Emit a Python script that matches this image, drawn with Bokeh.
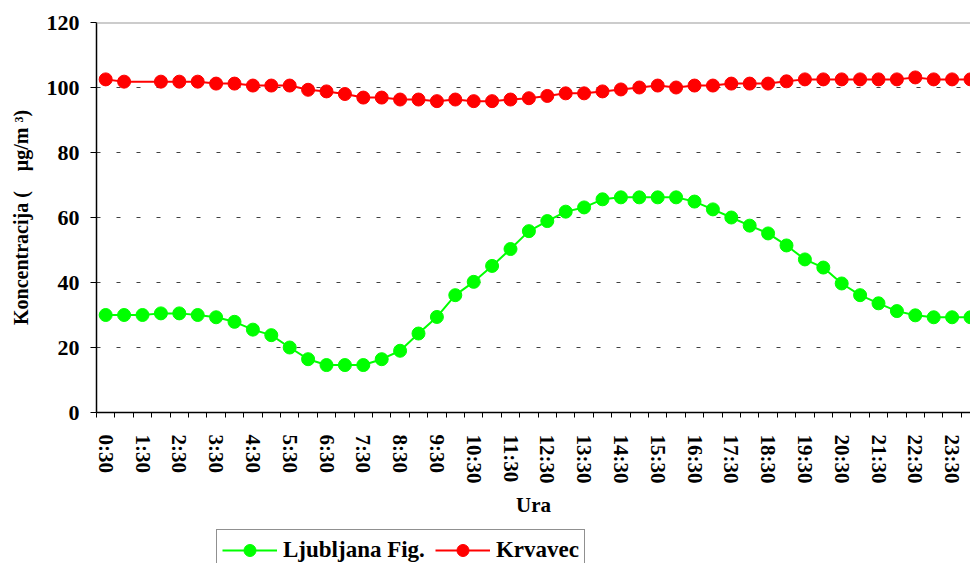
from bokeh.plotting import figure
from bokeh.layouts import column
from bokeh.models import Range1d, FixedTicker, Legend, LegendItem, Span
from bokeh.embed import file_html
from bokeh.resources import INLINE

# ---------------- data ----------------
categories = ["0:30", "1:00", "1:30", "2:00", "2:30", "3:00", "3:30", "4:00",
              "4:30", "5:00", "5:30", "6:00", "6:30", "7:00", "7:30", "8:00",
              "8:30", "9:00", "9:30", "10:00", "10:30", "11:00", "11:30", "12:00",
              "12:30", "13:00", "13:30", "14:00", "14:30", "15:00", "15:30", "16:00",
              "16:30", "17:00", "17:30", "18:00", "18:30", "19:00", "19:30", "20:00",
              "20:30", "21:00", "21:30", "22:00", "22:30", "23:00", "23:30", "24:00"]

tick_labels = ["0:30", "1:30", "2:30", "3:30", "4:30", "5:30", "6:30", "7:30",
               "8:30", "9:30", "10:30", "11:30", "12:30", "13:30", "14:30", "15:30",
               "16:30", "17:30", "18:30", "19:30", "20:30", "21:30", "22:30", "23:30"]

ljubljana = [30.0, 30.0, 30.0, 30.5, 30.5, 30.0, 29.3, 27.9, 25.5, 23.8,
             20.0, 16.4, 14.6, 14.6, 14.6, 16.4, 19.0, 24.3, 29.4, 36.1,
             40.2, 45.1, 50.3, 55.8, 58.9, 61.8, 63.1, 65.6, 66.2, 66.2,
             66.2, 66.2, 64.9, 62.5, 60.0, 57.5, 55.1, 51.4, 47.1, 44.6,
             39.7, 36.1, 33.6, 31.2, 29.9, 29.3, 29.3, 29.3]

krvavec = [102.5, 101.8, None, 101.8, 101.8, 101.8, 101.2, 101.2, 100.6, 100.6,
           100.6, 99.3, 98.8, 98.0, 96.9, 96.9, 96.3, 96.3, 95.8, 96.3,
           95.8, 95.8, 96.3, 96.7, 97.4, 98.2, 98.2, 98.8, 99.4, 100.0,
           100.6, 100.0, 100.6, 100.6, 101.2, 101.2, 101.2, 101.9, 102.5, 102.5,
           102.5, 102.5, 102.5, 102.5, 103.1, 102.5, 102.5, 102.5]

y_ticks = [0, 20, 40, 60, 80, 100, 120]
grid_ticks = [20, 40, 60, 80, 100]

series_names = ["Ljubljana Fig.", "Krvavec"]
series_colors = ["#00FF00", "#FF0000"]

# ---------------- derived ----------------
lj_x = [i for i, v in enumerate(ljubljana) if v is not None]
lj_y = [v for v in ljubljana if v is not None]
kr_x = [i for i, v in enumerate(krvavec) if v is not None]
kr_y = [v for v in krvavec if v is not None]

tick_pos = [categories.index(t) for t in tick_labels]
boundaries = [i - 0.5 for i in range(len(categories) + 1)]

FONT = "Liberation Serif"
W = 970
H_MAIN = 520
H_LEG = 43


def add_series(fig):
    gl = fig.line(lj_x, lj_y, line_color=series_colors[0], line_width=2)
    gs = fig.scatter(lj_x, lj_y, size=13, fill_color=series_colors[0], line_color=series_colors[0])
    rl = fig.line(kr_x, kr_y, line_color=series_colors[1], line_width=2)
    rs = fig.scatter(kr_x, kr_y, size=13, fill_color=series_colors[1], line_color=series_colors[1])
    return gl, gs, rl, rs


x_rng = (-0.5, len(categories) - 1.0)

p = figure(width=W, height=H_MAIN, output_backend="svg", toolbar_location=None,
           x_range=Range1d(*x_rng), y_range=Range1d(y_ticks[0], y_ticks[-1]),
           min_border_left=96, min_border_right=0, min_border_top=22, min_border_bottom=106)
p.outline_line_color = None
p.background_fill_color = "white"
p.border_fill_color = "white"

# grid
p.xgrid.visible = False
p.ygrid.ticker = FixedTicker(ticks=grid_ticks)
p.ygrid.grid_line_color = "#404040"
p.ygrid.grid_line_dash = "4 16"
p.ygrid.grid_line_width = 1
p.add_layout(Span(location=y_ticks[-1], dimension="width", line_color="#999999", line_width=2))

add_series(p)

# x axis
xa = p.xaxis[0]
xa.ticker = FixedTicker(ticks=tick_pos, minor_ticks=boundaries)
xa.major_label_overrides = {pos: lab for pos, lab in zip(tick_pos, tick_labels)}
xa.major_label_orientation = "vertical"
xa.major_tick_line_color = None
xa.major_tick_out = 5
xa.major_tick_in = 0
xa.minor_tick_out = 5
xa.minor_tick_in = 0
xa.minor_tick_line_color = "black"
xa.minor_tick_line_width = 1
xa.axis_line_color = "black"
xa.axis_line_width = 1.5
xa.major_label_standoff = 17
xa.major_label_text_font = FONT
xa.major_label_text_font_style = "bold"
xa.major_label_text_font_size = "21px"
xa.major_label_text_color = "black"
xa.axis_label = "Ura"
xa.axis_label_text_font = FONT
xa.axis_label_text_font_style = "bold"
xa.axis_label_text_font_size = "21px"
xa.axis_label_text_color = "black"
xa.axis_label_standoff = 7

# y axis
ya = p.yaxis[0]
ya.ticker = FixedTicker(ticks=y_ticks)
ya.major_tick_out = 6
ya.major_tick_in = 0
ya.major_tick_line_color = "black"
ya.minor_tick_line_color = None
ya.axis_line_color = "black"
ya.axis_line_width = 1.5
ya.major_label_standoff = 11
ya.major_label_text_font = FONT
ya.major_label_text_font_style = "bold"
ya.major_label_text_font_size = "22px"
ya.major_label_text_color = "black"
ya.axis_label = "Koncentracija (\u00a0\u00a0\u00a0\u00a0\u03bcg/m\u00a0\u00b3)"
ya.axis_label_text_font = FONT
ya.axis_label_text_font_style = "bold"
ya.axis_label_text_font_size = "20px"
ya.axis_label_text_color = "black"
ya.axis_label_standoff = 12

# legend strip below the chart (its own series copies lie outside its empty y range)
lf = figure(width=W, height=H_LEG, output_backend="svg", toolbar_location=None,
            x_range=Range1d(*x_rng), y_range=Range1d(1000, 1001),
            x_axis_location=None, y_axis_location=None,
            min_border_left=0, min_border_right=0, min_border_top=0, min_border_bottom=0)
lf.outline_line_color = None
lf.xgrid.visible = False
lf.ygrid.visible = False
lgl, lgs, lrl, lrs = add_series(lf)

legend = Legend(items=[LegendItem(label=series_names[0], renderers=[lgl, lgs]),
                       LegendItem(label=series_names[1], renderers=[lrl, lrs])],
                orientation="horizontal", location=(120, -8))
legend.glyph_width = 55
legend.glyph_height = 30
legend.label_height = 30
legend.padding = 5
legend.spacing = 10
legend.label_standoff = 6
legend.margin = 0
legend.border_line_color = "#222222"
legend.border_line_width = 1
legend.background_fill_color = "white"
legend.label_text_font = FONT
legend.label_text_font_style = "bold"
legend.label_text_font_size = "23px"
legend.label_text_color = "black"
lf.add_layout(legend)

layout = column(p, lf, spacing=0)
open("out.html", "w").write(file_html(layout, INLINE))
